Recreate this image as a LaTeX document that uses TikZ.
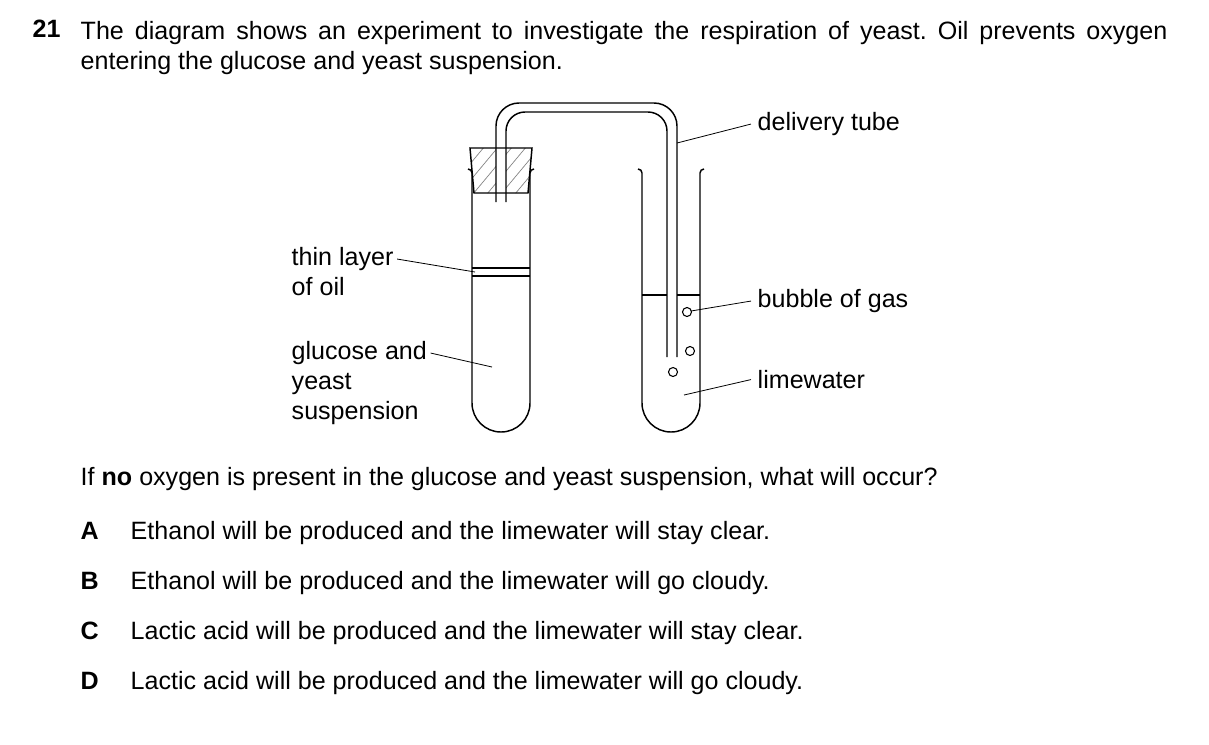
\documentclass[tikz,border=0pt]{standalone}
\usepackage{fontspec}
\setmainfont{Liberation Sans}
\begin{document}
\frenchspacing
\begin{tikzpicture}[x=0.75pt,y=-0.75pt,line width=1.1pt,
  txt/.style={inner sep=0pt,anchor=mid west,font=\fontsize{18.8}{22}\selectfont},
  lead/.style={line width=0.6pt}]
\useasboundingbox (0,0) rectangle (1209,744);
% text
\node[txt] (num) at (32,34) {\textbf{21}};
\node[txt,anchor=north west,text width=815pt,align=justify,font=\fontsize{18.8}{22}\selectfont] (intro) at (80,21) {The diagram shows an experiment to investigate the respiration of yeast. Oil prevents oxygen\linebreak entering the glucose and yeast suspension.};
\node[txt] (q) at (80,482) {If \textbf{no} oxygen is present in the glucose and yeast suspension, what will occur?};
\foreach \l/\t/\yy in {A/Ethanol will be produced and the limewater will stay clear./536,
  B/Ethanol will be produced and the limewater will go cloudy./586,
  C/Lactic acid will be produced and the limewater will stay clear./636,
  D/Lactic acid will be produced and the limewater will go cloudy./686}{
  \node[txt] (l\l) at (80,\yy) {\textbf{\l}};
  \node[txt] (t\l) at (130,\yy) {\t};
}
% labels
\node[txt] (thin) at (291,262) {thin layer};
\node[txt] (oil) at (291,292) {of oil};
\node[txt] (gl) at (291,356) {glucose and};
\node[txt] (ye) at (291,386) {yeast};
\node[txt] (su) at (291,416) {suspension};
\node[txt] (del) at (757,127) {delivery tube};
\node[txt] (bub) at (757,304) {bubble of gas};
\node[txt] (lime) at (757,385) {limewater};
% left tube
\draw (472,173) -- (472,403) arc[start angle=180,end angle=0,radius=29] -- (530,173);
\draw (472,173) arc[start angle=0,end angle=-90,radius=4];
\draw (530,173) arc[start angle=180,end angle=270,radius=4];
% oil
\draw[line width=0.8pt] (472,268) -- (530,268);
\draw[line width=0.8pt] (472,276) -- (530,276);
% stopper
\begin{scope}
\clip (470,148) -- (532,148) -- (528,193) -- (474,193) -- cycle;
\foreach \k in {0,...,7}{\draw[line width=0.5pt,gray] (440+\k*14,200) -- (490+\k*14,140);}
\end{scope}
\fill[white] (496,147) rectangle (506,194);
\draw (470,148) -- (532,148) -- (528,193) -- (474,193) -- cycle;
% right tube
\draw (642,173) -- (642,403) arc[start angle=180,end angle=0,radius=29] -- (700,173);
\draw (642,173) arc[start angle=0,end angle=-90,radius=4];
\draw (700,173) arc[start angle=180,end angle=270,radius=4];
\draw (642,295) -- (667,295) (677,295) -- (700,295);
% delivery tube
\draw (496,202) -- (496,126) arc[start angle=180,end angle=270,radius=23] -- (654,103) arc[start angle=270,end angle=360,radius=23] -- (677,357);
\draw (506,202) -- (506,131) arc[start angle=180,end angle=270,radius=19] -- (648,112) arc[start angle=270,end angle=360,radius=19] -- (667,357);
% bubbles
\draw[line width=0.8pt] (687,312) circle[radius=4.5];
\draw[line width=0.8pt] (690,351) circle[radius=4.5];
\draw[line width=0.8pt] (673,372) circle[radius=4.5];
% leaders
\coordinate (p1) at (677,143); \coordinate (p2) at (475,272); \coordinate (p3) at (492,367);
\coordinate (p4) at (691,311); \coordinate (p5) at (684,395);
\draw[lead] (del.west) ++(-6,0) -- (p1);
\draw[lead] (thin.east) ++(3,0) -- (p2);
\draw[lead] (gl.east) ++(3,0) -- (p3);
\draw[lead] (bub.west) ++(-6,0) -- (p4);
\draw[lead] (lime.west) ++(-6,0) -- (p5);
\end{tikzpicture}
\end{document}
